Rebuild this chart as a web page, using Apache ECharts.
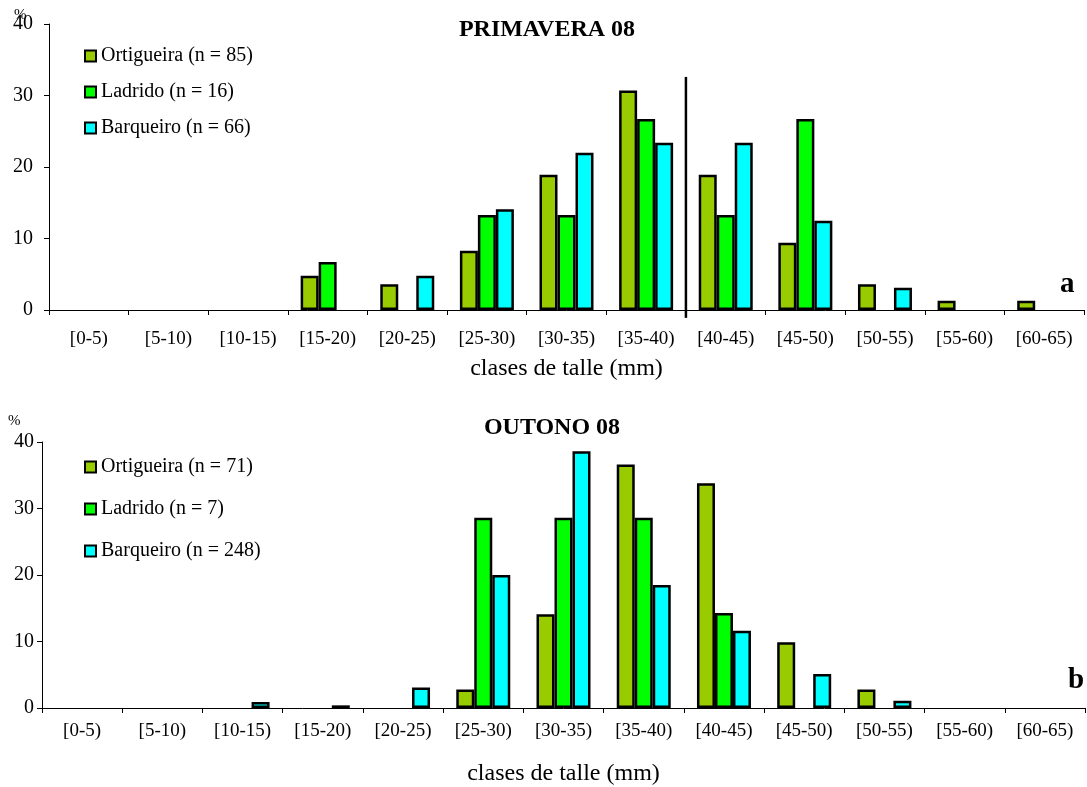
<!DOCTYPE html>
<html>
<head>
<meta charset="utf-8">
<script src="https://cdn.jsdelivr.net/npm/echarts@6/dist/echarts.min.js"></script>
<style>
html,body{margin:0;padding:0;background:#fff;}
#chart{width:1087px;height:787px;}
</style>
</head>
<body>
<div id="chart"></div>
<script>
const categories = ['[0-5)','[5-10)','[10-15)','[15-20)','[20-25)','[25-30)','[30-35)','[35-40)','[40-45)','[45-50)','[50-55)','[55-60)','[60-65)'];
const yTicks = [0, 10, 20, 30, 40];

const springNames = ['Ortigueira (n = 85)', 'Ladrido (n = 16)', 'Barqueiro (n = 66)'];
const springOrtigueira = [null, null, null, 4.8, 3.6, 8.3, 18.9, 30.7, 18.9, 9.4, 3.6, 1.3, 1.3];
const springLadrido    = [null, null, null, 6.7, null, 13.3, 13.3, 26.7, 13.3, 26.7, null, null, null];
const springBarqueiro  = [null, null, null, null, 4.8, 14.1, 22.0, 23.4, 23.4, 12.5, 3.1, null, null];

const autumnNames = ['Ortigueira (n = 71)', 'Ladrido (n = 7)', 'Barqueiro (n = 248)'];
const autumnOrtigueira = [null, null, null, null, null, 2.8, 14.1, 36.6, 33.8, 9.9, 2.8, null, null];
const autumnLadrido    = [null, null, null, null, null, 28.6, 28.6, 28.6, 14.3, null, null, null, null];
const autumnBarqueiro  = [null, null, 0.9, 0.4, 3.1, 20.0, 38.6, 18.5, 11.6, 5.1, 1.1, null, null];

// divider line in spring chart (between [35-40) and [40-45))
const dividerLine = [[8, 32.6], [8, -1.1]];

const colors = ['#99CC00', '#00FF00', '#00FFFF'];
const FONT = '"Liberation Serif", "Times New Roman", serif';

const chart = echarts.init(document.getElementById('chart'));

function barSeries(name, data, idx, colorIdx) {
  return {
    type: 'bar', name: name, data: data,
    xAxisIndex: idx, yAxisIndex: idx,
    barWidth: 18, barGap: '0%',
    itemStyle: { color: colors[colorIdx], borderColor: '#000', borderWidth: 2.5 },
    animation: false
  };
}

function catAxis(gridIndex, margin, nameGap) {
  return {
    type: 'category', gridIndex: gridIndex, data: categories,
    axisLine: { lineStyle: { color: '#000', width: 1 } },
    axisTick: { show: true, length: 5, lineStyle: { color: '#000' } },
    axisLabel: { color: '#000', fontFamily: FONT, fontSize: 19, margin: margin, interval: 0 },
    name: 'clases de talle (mm)', nameLocation: 'middle', nameGap: nameGap,
    nameTextStyle: { color: '#000', fontFamily: FONT, fontSize: 24 }
  };
}

function valAxis(gridIndex, margin) {
  return {
    type: 'value', gridIndex: gridIndex, min: yTicks[0], max: yTicks[yTicks.length - 1], interval: 10,
    splitLine: { show: false },
    axisLine: { show: true, lineStyle: { color: '#000', width: 1 } },
    axisTick: { show: true, length: 5, lineStyle: { color: '#000' } },
    axisLabel: { color: '#000', fontFamily: FONT, fontSize: 20, margin: margin }
  };
}

const legendText = { fontFamily: FONT, fontSize: 20, color: '#000' };

const option = {
  backgroundColor: '#fff',
  animation: false,
  title: [
    { text: 'PRIMAVERA 08', left: 542, top: 13, textAlign: 'center',
      textStyle: { fontFamily: FONT, fontWeight: 'bold', fontSize: 24, color: '#000' } },
    { text: 'OUTONO 08', left: 547, top: 411, textAlign: 'center',
      textStyle: { fontFamily: FONT, fontWeight: 'bold', fontSize: 24, color: '#000' } }
  ],
  legend: [
    { data: springNames, orient: 'vertical', left: 84, top: 46, itemGap: 16, padding: 0,
      itemWidth: 11, itemHeight: 11, icon: 'rect', selectedMode: false, textStyle: legendText },
    { data: autumnNames, orient: 'vertical', left: 84, top: 457, itemGap: 22, padding: 0,
      itemWidth: 11, itemHeight: 11, icon: 'rect', selectedMode: false, textStyle: legendText }
  ],
  grid: [
    { left: 49, top: 24, width: 1035, height: 286 },
    { left: 42, top: 442, width: 1043, height: 266 }
  ],
  xAxis: [
    catAxis(0, 20, 47),
    catAxis(1, 14, 54),
    { type: 'value', gridIndex: 0, min: 0, max: 13, show: false }
  ],
  yAxis: [
    valAxis(0, 16),
    valAxis(1, 8)
  ],
  graphic: [
    { type: 'text', left: 14, top: 8, style: { text: '%', font: '15px ' + FONT, fill: '#000' } },
    { type: 'text', left: 8, top: 414, style: { text: '%', font: '15px ' + FONT, fill: '#000' } },
    { type: 'text', left: 1060, top: 270, style: { text: 'a', font: 'bold 29px ' + FONT, fill: '#000' } },
    { type: 'text', left: 1068, top: 666, style: { text: 'b', font: 'bold 29px ' + FONT, fill: '#000' } }
  ],
  series: [
    barSeries(springNames[0], springOrtigueira, 0, 0),
    barSeries(springNames[1], springLadrido, 0, 1),
    barSeries(springNames[2], springBarqueiro, 0, 2),
    barSeries(autumnNames[0], autumnOrtigueira, 1, 0),
    barSeries(autumnNames[1], autumnLadrido, 1, 1),
    barSeries(autumnNames[2], autumnBarqueiro, 1, 2),
    { type: 'line', name: 'divider', data: dividerLine, xAxisIndex: 2, yAxisIndex: 0,
      symbol: 'none', clip: false, silent: true,
      lineStyle: { color: '#000', width: 2.5 } }
  ]
};
chart.setOption(option);
</script>
</body>
</html>
